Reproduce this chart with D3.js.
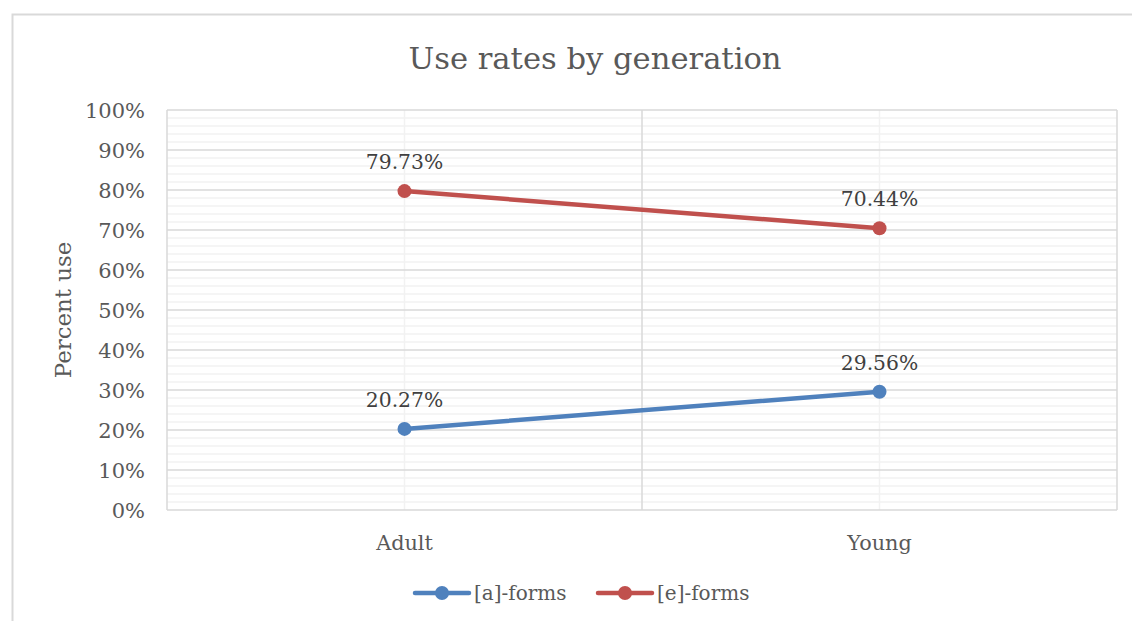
<!DOCTYPE html>
<html lang="en">
<head>
  <meta charset="utf-8" />
  <title>Use rates by generation</title>
  <script src="https://d3js.org/d3.v7.min.js"></script>
  <style>
    html, body { margin: 0; padding: 0; background: #fff; }
    svg { display: block; font-family: "DejaVu Serif", "Liberation Serif", serif; }
  </style>
</head>
<body>
  <svg id="chart" width="1132" height="621"></svg>
  <script>
    // data
    const categories = ["Adult", "Young"];
    const seriesNames = ["[a]-forms", "[e]-forms"];
    const aForms = [20.27, 29.56];
    const eForms = [79.73, 70.44];
    const yTicks = [0, 10, 20, 30, 40, 50, 60, 70, 80, 90, 100];
    const colors = ["#4f81bd", "#c0504d"];

    const width = 1132, height = 621;
    const plot = { left: 167, top: 110, right: 1117, bottom: 510 };

    const svg = d3.select("#chart");

    // outer chart frame (runs off right/bottom edge)
    svg.append("rect")
      .attr("x", 12.5).attr("y", 14.5)
      .attr("width", 1140).attr("height", 620)
      .attr("fill", "#fff").attr("stroke", "#d9d9d9").attr("stroke-width", 2);

    const x = d3.scaleBand().domain(categories).range([plot.left, plot.right]);
    const y = d3.scaleLinear().domain([0, 100]).range([plot.bottom, plot.top]);

    const grid = svg.append("g");

    // minor horizontal gridlines every 2%
    grid.selectAll("line.minor")
      .data(d3.range(0, 101, 2).filter(v => v % 10 !== 0))
      .join("line")
      .attr("x1", plot.left).attr("x2", plot.right)
      .attr("y1", d => y(d)).attr("y2", d => y(d))
      .attr("stroke", "#f2f2f2").attr("stroke-width", 1.5);

    // minor vertical gridlines at category centres
    grid.selectAll("line.vminor")
      .data(categories)
      .join("line")
      .attr("x1", d => x(d) + x.bandwidth() / 2).attr("x2", d => x(d) + x.bandwidth() / 2)
      .attr("y1", plot.top).attr("y2", plot.bottom)
      .attr("stroke", "#f2f2f2").attr("stroke-width", 1.5);

    // major horizontal gridlines
    grid.selectAll("line.major")
      .data(yTicks)
      .join("line")
      .attr("x1", plot.left).attr("x2", plot.right)
      .attr("y1", d => y(d)).attr("y2", d => y(d))
      .attr("stroke", "#d9d9d9").attr("stroke-width", 1.5);

    // major vertical gridlines at category boundaries
    grid.selectAll("line.vmajor")
      .data([plot.left, x("Young"), plot.right])
      .join("line")
      .attr("x1", d => d).attr("x2", d => d)
      .attr("y1", plot.top).attr("y2", plot.bottom)
      .attr("stroke", "#d9d9d9").attr("stroke-width", 1.5);

    // y tick labels
    svg.append("g")
      .selectAll("text")
      .data(yTicks)
      .join("text")
      .attr("x", 145)
      .attr("y", d => y(d))
      .attr("dy", "0.4em")
      .attr("text-anchor", "end")
      .attr("font-size", 21)
      .attr("fill", "#595959")
      .text(d => d + "%");

    // category labels
    svg.append("g")
      .selectAll("text")
      .data(categories)
      .join("text")
      .attr("x", d => x(d) + x.bandwidth() / 2)
      .attr("y", 550)
      .attr("text-anchor", "middle")
      .attr("font-size", 20.8)
      .attr("fill", "#595959")
      .text(d => d);

    // title
    svg.append("text")
      .attr("x", 595).attr("y", 69)
      .attr("text-anchor", "middle")
      .attr("font-size", 30.6)
      .attr("fill", "#595959")
      .text("Use rates by generation");

    // y axis title
    svg.append("text")
      .attr("transform", "translate(71,310) rotate(-90)")
      .attr("text-anchor", "middle")
      .attr("font-size", 22.9)
      .attr("fill", "#595959")
      .text("Percent use");

    const series = [aForms, eForms];
    const cx = i => x(categories[i]) + x.bandwidth() / 2;
    const line = d3.line().x((d, i) => cx(i)).y(d => y(d));

    series.forEach((vals, s) => {
      const g = svg.append("g");
      g.append("path")
        .datum(vals)
        .attr("d", line)
        .attr("fill", "none")
        .attr("stroke", colors[s])
        .attr("stroke-width", 4.5)
        .attr("stroke-linecap", "round");
      g.selectAll("circle")
        .data(vals)
        .join("circle")
        .attr("cx", (d, i) => cx(i))
        .attr("cy", d => y(d))
        .attr("r", 7)
        .attr("fill", colors[s]);
      g.selectAll("text")
        .data(vals)
        .join("text")
        .attr("x", (d, i) => cx(i))
        .attr("y", d => y(d) - 22)
        .attr("text-anchor", "middle")
        .attr("font-size", 20.3)
        .attr("fill", "#404040")
        .text(d => d.toFixed(2) + "%");
    });

    // legend
    const legendX = [415, 598];
    const legend = svg.append("g");
    seriesNames.forEach((name, s) => {
      const lg = legend.append("g").attr("transform", `translate(${legendX[s]},593)`);
      lg.append("line")
        .attr("x1", 0).attr("x2", 54)
        .attr("stroke", colors[s]).attr("stroke-width", 4.5)
        .attr("stroke-linecap", "round");
      lg.append("circle").attr("cx", 27).attr("r", 7).attr("fill", colors[s]);
      lg.append("text")
        .attr("x", 59).attr("dy", "0.35em")
        .attr("font-size", 20)
        .attr("fill", "#595959")
        .text(name);
    });
  </script>
</body>
</html>
